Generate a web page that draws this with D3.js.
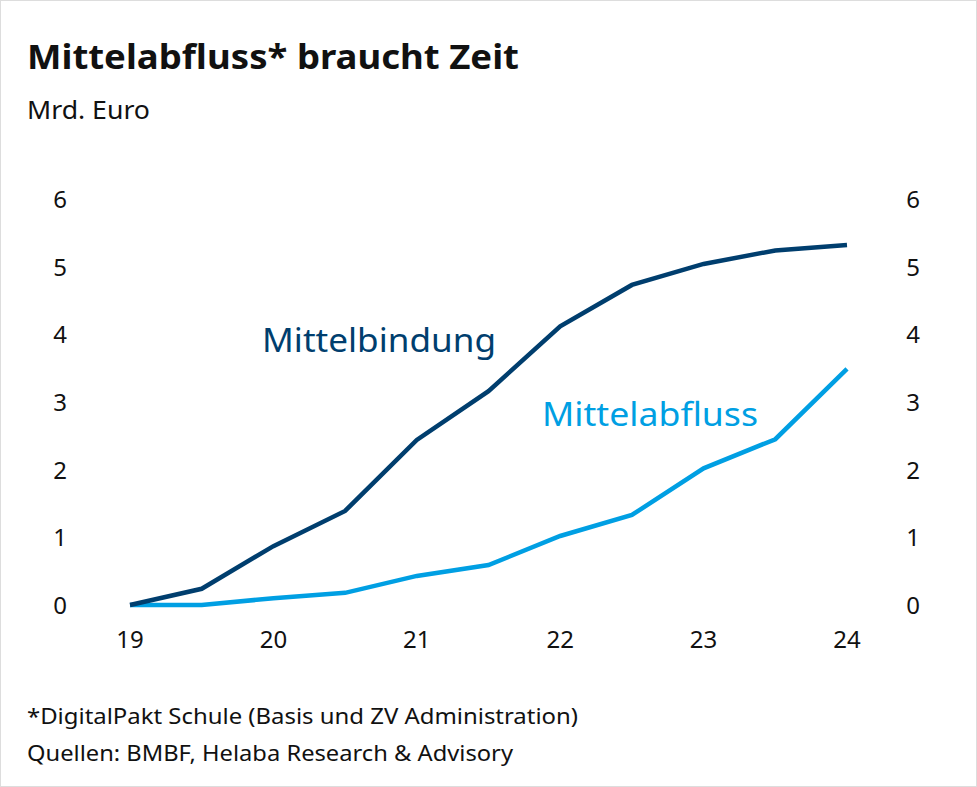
<!DOCTYPE html>
<html><head><meta charset="utf-8">
<script src="https://cdn.jsdelivr.net/npm/d3@7"></script>
<style>body{margin:0;background:#fff}svg{display:block;font-family:"Noto Sans",sans-serif}</style>
</head><body>
<svg id="c" width="977" height="787"></svg>
<script>
const periods = [19,19.5,20,20.5,21,21.5,22,22.5,23,23.5,24];
const mittelbindung = [0,0.24,0.87,1.39,2.44,3.16,4.12,4.73,5.04,5.24,5.32];
const mittelabfluss = [0,0,0.1,0.18,0.43,0.59,1.02,1.33,2.02,2.45,3.49];
const yTicks = [0,1,2,3,4,5,6];
const xTicks = [19,20,21,22,23,24];
const dark = "#003e6e", light = "#009fe3";
const svg = d3.select("#c");
svg.append("rect").attr("x",0.5).attr("y",0.5).attr("width",976).attr("height",786).attr("fill","#fff").attr("stroke","#ddd");
const x = d3.scaleLinear().domain([19,24]).range([130,847]);
const y = d3.scaleLinear().domain([0,6]).range([605,199]);
function txt(xp,yp,size,str,len,fill,weight){
  const t = svg.append("text").attr("x",xp).attr("y",yp).attr("font-size",size).attr("fill",fill||"#111").text(str);
  if(weight) t.attr("font-weight",weight);
  if(len) t.attr("textLength",len).attr("lengthAdjust","spacingAndGlyphs");
  return t;
}
txt(27,69,34,"Mittelabfluss* braucht Zeit",492,null,"bold");
txt(27,119,25,"Mrd. Euro",123);
yTicks.forEach(t=>{
  svg.append("text").attr("x",60).attr("y",y(t)+9).attr("text-anchor","middle").attr("font-size",24).attr("fill","#111").text(t);
  svg.append("text").attr("x",913).attr("y",y(t)+9).attr("text-anchor","middle").attr("font-size",24).attr("fill","#111").text(t);
});
xTicks.forEach(t=>svg.append("text").attr("x",x(t)).attr("y",648).attr("text-anchor","middle").attr("font-size",24).attr("fill","#111").text(t));
const line = d3.line().x((d,i)=>x(periods[i])).y(d=>y(d));
svg.append("path").datum(mittelabfluss).attr("d",line).attr("fill","none").attr("stroke",light).attr("stroke-width",4.5);
svg.append("path").datum(mittelbindung).attr("d",line).attr("fill","none").attr("stroke",dark).attr("stroke-width",4.5);
txt(262,352,32,"Mittelbindung",234,dark);
txt(542,426,32,"Mittelabfluss",216,light);
txt(27,724,22,"*DigitalPakt Schule (Basis und ZV Administration)",551);
txt(27,761,22,"Quellen: BMBF, Helaba Research & Advisory",486);
</script></body></html>
